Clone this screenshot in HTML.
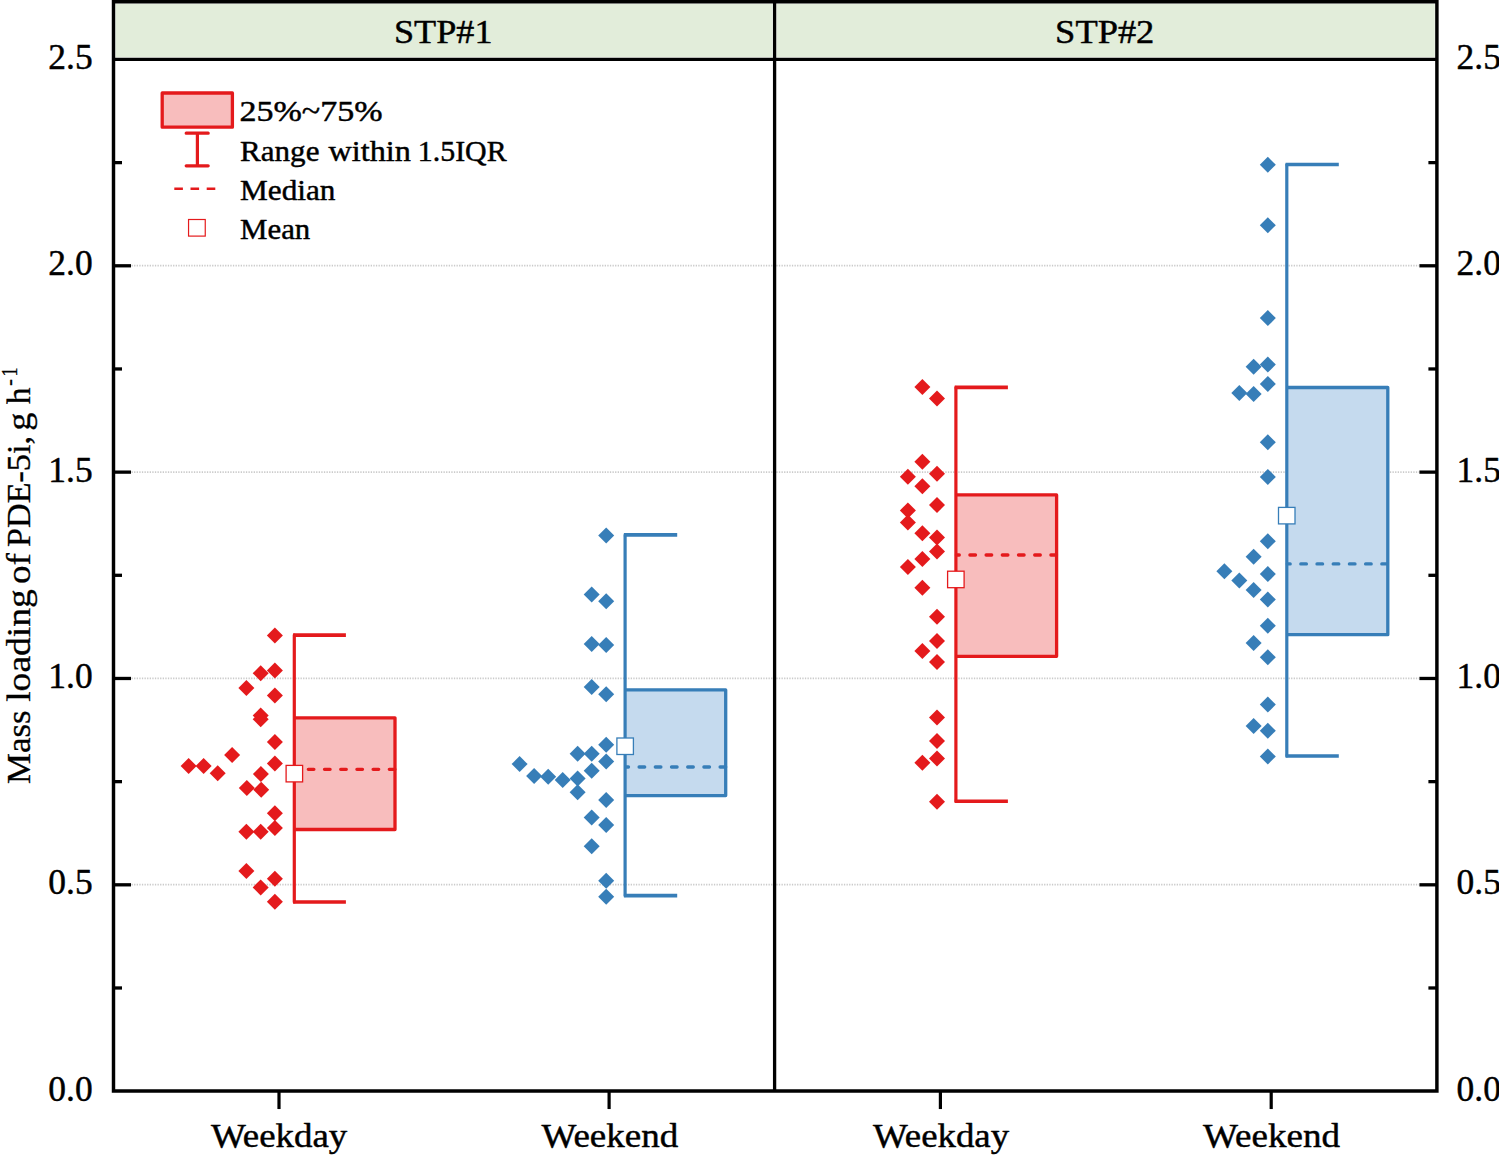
<!DOCTYPE html>
<html><head><meta charset="utf-8"><title>Mass loading of PDE-5i</title>
<style>html,body{margin:0;padding:0;background:#fff;}svg{display:block;}</style></head>
<body>
<svg width="1499" height="1156" viewBox="0 0 1499 1156" font-family="'Liberation Serif', serif">
<rect x="0" y="0" width="1499" height="1156" fill="#fff"/>
<rect x="115.57" y="3.77" width="657.03" height="53.50" fill="#E2EDDA"/>
<rect x="776.60" y="3.77" width="658.23" height="53.50" fill="#E2EDDA"/>
<line x1="131.5" x2="1418.9" y1="884.71" y2="884.71" stroke="#cbcbcb" stroke-width="1.7" stroke-dasharray="1.3 1.3"/>
<line x1="131.5" x2="1418.9" y1="678.37" y2="678.37" stroke="#cbcbcb" stroke-width="1.7" stroke-dasharray="1.3 1.3"/>
<line x1="131.5" x2="1418.9" y1="472.03" y2="472.03" stroke="#cbcbcb" stroke-width="1.7" stroke-dasharray="1.3 1.3"/>
<line x1="131.5" x2="1418.9" y1="265.69" y2="265.69" stroke="#cbcbcb" stroke-width="1.7" stroke-dasharray="1.3 1.3"/>
<path d="M274.9 627.6L282.9 635.6L274.9 643.6L266.9 635.6Z" fill="#E41A1C"/>
<path d="M274.9 662.4L282.9 670.4L274.9 678.4L266.9 670.4Z" fill="#E41A1C"/>
<path d="M260.7 665.2L268.7 673.2L260.7 681.2L252.7 673.2Z" fill="#E41A1C"/>
<path d="M246.4 680.1L254.4 688.1L246.4 696.1L238.4 688.1Z" fill="#E41A1C"/>
<path d="M274.9 687.6L282.9 695.6L274.9 703.6L266.9 695.6Z" fill="#E41A1C"/>
<path d="M260.7 707.5L268.7 715.5L260.7 723.5L252.7 715.5Z" fill="#E41A1C"/>
<path d="M260.7 711.2L268.7 719.2L260.7 727.2L252.7 719.2Z" fill="#E41A1C"/>
<path d="M274.9 734.1L282.9 742.1L274.9 750.1L266.9 742.1Z" fill="#E41A1C"/>
<path d="M232.1 747.0L240.1 755.0L232.1 763.0L224.1 755.0Z" fill="#E41A1C"/>
<path d="M188.6 758.0L196.6 766.0L188.6 774.0L180.6 766.0Z" fill="#E41A1C"/>
<path d="M203.6 758.0L211.6 766.0L203.6 774.0L195.6 766.0Z" fill="#E41A1C"/>
<path d="M217.7 765.2L225.7 773.2L217.7 781.2L209.7 773.2Z" fill="#E41A1C"/>
<path d="M274.9 755.5L282.9 763.5L274.9 771.5L266.9 763.5Z" fill="#E41A1C"/>
<path d="M260.9 766.1L268.9 774.1L260.9 782.1L252.9 774.1Z" fill="#E41A1C"/>
<path d="M246.8 780.1L254.8 788.1L246.8 796.1L238.8 788.1Z" fill="#E41A1C"/>
<path d="M261.2 781.8L269.2 789.8L261.2 797.8L253.2 789.8Z" fill="#E41A1C"/>
<path d="M274.9 805.2L282.9 813.2L274.9 821.2L266.9 813.2Z" fill="#E41A1C"/>
<path d="M274.9 820.0L282.9 828.0L274.9 836.0L266.9 828.0Z" fill="#E41A1C"/>
<path d="M246.4 823.7L254.4 831.7L246.4 839.7L238.4 831.7Z" fill="#E41A1C"/>
<path d="M260.7 823.7L268.7 831.7L260.7 839.7L252.7 831.7Z" fill="#E41A1C"/>
<path d="M246.4 863.1L254.4 871.1L246.4 879.1L238.4 871.1Z" fill="#E41A1C"/>
<path d="M274.9 870.8L282.9 878.8L274.9 886.8L266.9 878.8Z" fill="#E41A1C"/>
<path d="M260.7 879.4L268.7 887.4L260.7 895.4L252.7 887.4Z" fill="#E41A1C"/>
<path d="M274.9 893.7L282.9 901.7L274.9 909.7L266.9 901.7Z" fill="#E41A1C"/>
<rect x="294.3" y="717.8" width="100.7" height="111.7" fill="#F8BDBD"/>
<line x1="294.8" x2="395.0" y1="769.3" y2="769.3" stroke="#E41A1C" stroke-width="3.3" stroke-linecap="round" stroke-dasharray="5.6 10.6" stroke-dashoffset="2.7"/>
<path d="M294.3 635.1V902.0" fill="none" stroke="#E41A1C" stroke-width="3.2" stroke-linecap="round"/>
<path d="M293.1 635.1H345.9M293.1 902.0H345.9" fill="none" stroke="#E41A1C" stroke-width="3.6" stroke-linecap="butt"/>
<path d="M294.3 717.8H395.0V829.5H294.3" fill="none" stroke="#E41A1C" stroke-width="3.3" stroke-linejoin="round"/>
<rect x="286.1" y="765.4" width="16.5" height="16.5" fill="#fff" stroke="#E41A1C" stroke-width="1.3"/>
<path d="M606.2 527.4L614.2 535.4L606.2 543.4L598.2 535.4Z" fill="#377EB8"/>
<path d="M591.7 586.6L599.7 594.6L591.7 602.6L583.7 594.6Z" fill="#377EB8"/>
<path d="M606.2 593.2L614.2 601.2L606.2 609.2L598.2 601.2Z" fill="#377EB8"/>
<path d="M591.7 636.0L599.7 644.0L591.7 652.0L583.7 644.0Z" fill="#377EB8"/>
<path d="M606.2 637.1L614.2 645.1L606.2 653.1L598.2 645.1Z" fill="#377EB8"/>
<path d="M591.7 679.1L599.7 687.1L591.7 695.1L583.7 687.1Z" fill="#377EB8"/>
<path d="M606.2 686.2L614.2 694.2L606.2 702.2L598.2 694.2Z" fill="#377EB8"/>
<path d="M606.2 736.7L614.2 744.7L606.2 752.7L598.2 744.7Z" fill="#377EB8"/>
<path d="M577.6 745.7L585.6 753.7L577.6 761.7L569.6 753.7Z" fill="#377EB8"/>
<path d="M591.7 745.7L599.7 753.7L591.7 761.7L583.7 753.7Z" fill="#377EB8"/>
<path d="M606.2 753.5L614.2 761.5L606.2 769.5L598.2 761.5Z" fill="#377EB8"/>
<path d="M519.6 756.1L527.6 764.1L519.6 772.1L511.6 764.1Z" fill="#377EB8"/>
<path d="M591.7 762.8L599.7 770.8L591.7 778.8L583.7 770.8Z" fill="#377EB8"/>
<path d="M534.1 768.0L542.1 776.0L534.1 784.0L526.1 776.0Z" fill="#377EB8"/>
<path d="M548.2 768.7L556.2 776.7L548.2 784.7L540.2 776.7Z" fill="#377EB8"/>
<path d="M562.7 772.1L570.7 780.1L562.7 788.1L554.7 780.1Z" fill="#377EB8"/>
<path d="M577.6 770.6L585.6 778.6L577.6 786.6L569.6 778.6Z" fill="#377EB8"/>
<path d="M577.6 784.2L585.6 792.2L577.6 800.2L569.6 792.2Z" fill="#377EB8"/>
<path d="M606.2 792.1L614.2 800.1L606.2 808.1L598.2 800.1Z" fill="#377EB8"/>
<path d="M591.7 809.6L599.7 817.6L591.7 825.6L583.7 817.6Z" fill="#377EB8"/>
<path d="M606.2 817.0L614.2 825.0L606.2 833.0L598.2 825.0Z" fill="#377EB8"/>
<path d="M591.7 838.2L599.7 846.2L591.7 854.2L583.7 846.2Z" fill="#377EB8"/>
<path d="M606.2 872.8L614.2 880.8L606.2 888.8L598.2 880.8Z" fill="#377EB8"/>
<path d="M606.2 888.8L614.2 896.8L606.2 904.8L598.2 896.8Z" fill="#377EB8"/>
<rect x="625.1" y="689.9" width="100.6" height="105.7" fill="#C5DAEE"/>
<line x1="625.6" x2="725.7" y1="767.0" y2="767.0" stroke="#377EB8" stroke-width="3.3" stroke-linecap="round" stroke-dasharray="5.6 10.6" stroke-dashoffset="2.7"/>
<path d="M625.1 534.9V895.6" fill="none" stroke="#377EB8" stroke-width="3.2" stroke-linecap="round"/>
<path d="M623.9 534.9H677.2M623.9 895.6H677.2" fill="none" stroke="#377EB8" stroke-width="3.6" stroke-linecap="butt"/>
<path d="M625.1 689.9H725.7V795.6H625.1" fill="none" stroke="#377EB8" stroke-width="3.3" stroke-linejoin="round"/>
<rect x="616.9" y="738.0" width="16.5" height="16.5" fill="#fff" stroke="#377EB8" stroke-width="1.3"/>
<path d="M922.4 379.1L930.4 387.1L922.4 395.1L914.4 387.1Z" fill="#E41A1C"/>
<path d="M937.0 390.6L945.0 398.6L937.0 406.6L929.0 398.6Z" fill="#E41A1C"/>
<path d="M922.4 453.8L930.4 461.8L922.4 469.8L914.4 461.8Z" fill="#E41A1C"/>
<path d="M907.9 468.8L915.9 476.8L907.9 484.8L899.9 476.8Z" fill="#E41A1C"/>
<path d="M937.0 465.8L945.0 473.8L937.0 481.8L929.0 473.8Z" fill="#E41A1C"/>
<path d="M922.4 478.3L930.4 486.3L922.4 494.3L914.4 486.3Z" fill="#E41A1C"/>
<path d="M937.0 497.1L945.0 505.1L937.0 513.0L929.0 505.1Z" fill="#E41A1C"/>
<path d="M907.9 502.4L915.9 510.4L907.9 518.5L899.9 510.4Z" fill="#E41A1C"/>
<path d="M907.9 514.5L915.9 522.5L907.9 530.5L899.9 522.5Z" fill="#E41A1C"/>
<path d="M922.4 525.2L930.4 533.2L922.4 541.2L914.4 533.2Z" fill="#E41A1C"/>
<path d="M937.0 529.5L945.0 537.5L937.0 545.5L929.0 537.5Z" fill="#E41A1C"/>
<path d="M937.0 543.6L945.0 551.6L937.0 559.6L929.0 551.6Z" fill="#E41A1C"/>
<path d="M922.4 551.1L930.4 559.1L922.4 567.1L914.4 559.1Z" fill="#E41A1C"/>
<path d="M907.9 559.0L915.9 567.0L907.9 575.0L899.9 567.0Z" fill="#E41A1C"/>
<path d="M922.4 579.8L930.4 587.8L922.4 595.8L914.4 587.8Z" fill="#E41A1C"/>
<path d="M937.0 608.8L945.0 616.8L937.0 624.8L929.0 616.8Z" fill="#E41A1C"/>
<path d="M937.0 632.9L945.0 640.9L937.0 648.9L929.0 640.9Z" fill="#E41A1C"/>
<path d="M922.4 642.9L930.4 650.9L922.4 658.9L914.4 650.9Z" fill="#E41A1C"/>
<path d="M937.0 654.1L945.0 662.1L937.0 670.1L929.0 662.1Z" fill="#E41A1C"/>
<path d="M937.0 709.4L945.0 717.4L937.0 725.4L929.0 717.4Z" fill="#E41A1C"/>
<path d="M937.0 733.1L945.0 741.1L937.0 749.1L929.0 741.1Z" fill="#E41A1C"/>
<path d="M937.0 750.5L945.0 758.5L937.0 766.5L929.0 758.5Z" fill="#E41A1C"/>
<path d="M922.4 754.7L930.4 762.7L922.4 770.7L914.4 762.7Z" fill="#E41A1C"/>
<path d="M937.0 793.7L945.0 801.7L937.0 809.7L929.0 801.7Z" fill="#E41A1C"/>
<rect x="955.9" y="494.9" width="100.7" height="161.4" fill="#F8BDBD"/>
<line x1="956.4" x2="1056.6" y1="555.0" y2="555.0" stroke="#E41A1C" stroke-width="3.3" stroke-linecap="round" stroke-dasharray="5.6 10.6" stroke-dashoffset="2.7"/>
<path d="M955.9 387.4V801.2" fill="none" stroke="#E41A1C" stroke-width="3.2" stroke-linecap="round"/>
<path d="M954.7 387.4H1007.9M954.7 801.2H1007.9" fill="none" stroke="#E41A1C" stroke-width="3.6" stroke-linecap="butt"/>
<path d="M955.9 494.9H1056.6V656.3H955.9" fill="none" stroke="#E41A1C" stroke-width="3.3" stroke-linejoin="round"/>
<rect x="947.6" y="571.2" width="16.5" height="16.5" fill="#fff" stroke="#E41A1C" stroke-width="1.3"/>
<path d="M1267.8 156.8L1275.8 164.8L1267.8 172.8L1259.8 164.8Z" fill="#377EB8"/>
<path d="M1267.8 217.2L1275.8 225.2L1267.8 233.2L1259.8 225.2Z" fill="#377EB8"/>
<path d="M1267.8 310.1L1275.8 318.1L1267.8 326.1L1259.8 318.1Z" fill="#377EB8"/>
<path d="M1253.6 358.8L1261.6 366.8L1253.6 374.8L1245.6 366.8Z" fill="#377EB8"/>
<path d="M1267.8 356.6L1275.8 364.6L1267.8 372.6L1259.8 364.6Z" fill="#377EB8"/>
<path d="M1267.8 375.9L1275.8 383.9L1267.8 391.9L1259.8 383.9Z" fill="#377EB8"/>
<path d="M1239.3 385.1L1247.3 393.1L1239.3 401.1L1231.3 393.1Z" fill="#377EB8"/>
<path d="M1253.6 385.9L1261.6 393.9L1253.6 401.9L1245.6 393.9Z" fill="#377EB8"/>
<path d="M1267.8 434.3L1275.8 442.3L1267.8 450.3L1259.8 442.3Z" fill="#377EB8"/>
<path d="M1267.8 468.9L1275.8 476.9L1267.8 484.9L1259.8 476.9Z" fill="#377EB8"/>
<path d="M1267.8 533.2L1275.8 541.2L1267.8 549.2L1259.8 541.2Z" fill="#377EB8"/>
<path d="M1253.6 548.7L1261.6 556.7L1253.6 564.7L1245.6 556.7Z" fill="#377EB8"/>
<path d="M1224.4 563.2L1232.4 571.2L1224.4 579.2L1216.4 571.2Z" fill="#377EB8"/>
<path d="M1267.8 566.1L1275.8 574.1L1267.8 582.1L1259.8 574.1Z" fill="#377EB8"/>
<path d="M1239.3 572.4L1247.3 580.4L1239.3 588.4L1231.3 580.4Z" fill="#377EB8"/>
<path d="M1253.6 582.1L1261.6 590.1L1253.6 598.1L1245.6 590.1Z" fill="#377EB8"/>
<path d="M1267.8 591.5L1275.8 599.5L1267.8 607.5L1259.8 599.5Z" fill="#377EB8"/>
<path d="M1267.8 617.8L1275.8 625.8L1267.8 633.8L1259.8 625.8Z" fill="#377EB8"/>
<path d="M1253.6 634.9L1261.6 642.9L1253.6 650.9L1245.6 642.9Z" fill="#377EB8"/>
<path d="M1267.8 649.2L1275.8 657.2L1267.8 665.2L1259.8 657.2Z" fill="#377EB8"/>
<path d="M1267.8 696.6L1275.8 704.6L1267.8 712.6L1259.8 704.6Z" fill="#377EB8"/>
<path d="M1253.6 718.0L1261.6 726.0L1253.6 734.0L1245.6 726.0Z" fill="#377EB8"/>
<path d="M1267.8 722.8L1275.8 730.8L1267.8 738.8L1259.8 730.8Z" fill="#377EB8"/>
<path d="M1267.8 748.5L1275.8 756.5L1267.8 764.5L1259.8 756.5Z" fill="#377EB8"/>
<rect x="1286.8" y="387.5" width="101.0" height="247.2" fill="#C5DAEE"/>
<line x1="1287.3" x2="1387.8" y1="563.9" y2="563.9" stroke="#377EB8" stroke-width="3.3" stroke-linecap="round" stroke-dasharray="5.6 10.6" stroke-dashoffset="2.7"/>
<path d="M1286.8 164.5V756.0" fill="none" stroke="#377EB8" stroke-width="3.2" stroke-linecap="round"/>
<path d="M1285.6 164.5H1338.8M1285.6 756.0H1338.8" fill="none" stroke="#377EB8" stroke-width="3.6" stroke-linecap="butt"/>
<path d="M1286.8 387.5H1387.8V634.7H1286.8" fill="none" stroke="#377EB8" stroke-width="3.3" stroke-linejoin="round"/>
<rect x="1278.5" y="507.4" width="16.5" height="16.5" fill="#fff" stroke="#377EB8" stroke-width="1.3"/>
<g stroke="#000" stroke-width="3.45" fill="none" stroke-linecap="butt">
<path d="M113.5 1091.05V1.7H1436.9V1091.05Z" stroke-linejoin="miter"/>
<line x1="113.5" x2="1436.9" y1="59.35" y2="59.35"/>
<line x1="774.6" x2="774.6" y1="1.7" y2="1091.05" stroke-width="3.3"/>
<line x1="113.5" x2="122.0" y1="987.98" y2="987.98" stroke-width="3.3"/>
<line x1="1436.9" x2="1428.4" y1="987.98" y2="987.98" stroke-width="3.3"/>
<line x1="113.5" x2="131.0" y1="884.81" y2="884.81" stroke-width="3.3"/>
<line x1="1436.9" x2="1419.4" y1="884.81" y2="884.81" stroke-width="3.3"/>
<line x1="113.5" x2="122.0" y1="781.64" y2="781.64" stroke-width="3.3"/>
<line x1="1436.9" x2="1428.4" y1="781.64" y2="781.64" stroke-width="3.3"/>
<line x1="113.5" x2="131.0" y1="678.47" y2="678.47" stroke-width="3.3"/>
<line x1="1436.9" x2="1419.4" y1="678.47" y2="678.47" stroke-width="3.3"/>
<line x1="113.5" x2="122.0" y1="575.30" y2="575.30" stroke-width="3.3"/>
<line x1="1436.9" x2="1428.4" y1="575.30" y2="575.30" stroke-width="3.3"/>
<line x1="113.5" x2="131.0" y1="472.13" y2="472.13" stroke-width="3.3"/>
<line x1="1436.9" x2="1419.4" y1="472.13" y2="472.13" stroke-width="3.3"/>
<line x1="113.5" x2="122.0" y1="368.96" y2="368.96" stroke-width="3.3"/>
<line x1="1436.9" x2="1428.4" y1="368.96" y2="368.96" stroke-width="3.3"/>
<line x1="113.5" x2="131.0" y1="265.79" y2="265.79" stroke-width="3.3"/>
<line x1="1436.9" x2="1419.4" y1="265.79" y2="265.79" stroke-width="3.3"/>
<line x1="113.5" x2="122.0" y1="162.62" y2="162.62" stroke-width="3.3"/>
<line x1="1436.9" x2="1428.4" y1="162.62" y2="162.62" stroke-width="3.3"/>
<line x1="279.0" x2="279.0" y1="1091.05" y2="1109.05" stroke-width="3.2"/>
<line x1="609.1" x2="609.1" y1="1091.05" y2="1109.05" stroke-width="3.2"/>
<line x1="940.4" x2="940.4" y1="1091.05" y2="1109.05" stroke-width="3.2"/>
<line x1="1271.2" x2="1271.2" y1="1091.05" y2="1109.05" stroke-width="3.2"/>
</g>
<g fill="#000" stroke="#000" stroke-width="0.45" stroke-linejoin="round">
<text x="48.38" y="1100.5" font-size="34.8" textLength="44.30" lengthAdjust="spacingAndGlyphs">0.0</text>
<text x="1456.58" y="1100.5" font-size="34.8" textLength="44.30" lengthAdjust="spacingAndGlyphs">0.0</text>
<text x="48.38" y="894.2" font-size="34.8" textLength="44.30" lengthAdjust="spacingAndGlyphs">0.5</text>
<text x="1456.58" y="894.2" font-size="34.8" textLength="44.30" lengthAdjust="spacingAndGlyphs">0.5</text>
<text x="48.38" y="687.9" font-size="34.8" textLength="44.30" lengthAdjust="spacingAndGlyphs">1.0</text>
<text x="1456.58" y="687.9" font-size="34.8" textLength="44.30" lengthAdjust="spacingAndGlyphs">1.0</text>
<text x="48.38" y="481.5" font-size="34.8" textLength="44.30" lengthAdjust="spacingAndGlyphs">1.5</text>
<text x="1456.58" y="481.5" font-size="34.8" textLength="44.30" lengthAdjust="spacingAndGlyphs">1.5</text>
<text x="48.38" y="275.2" font-size="34.8" textLength="44.30" lengthAdjust="spacingAndGlyphs">2.0</text>
<text x="1456.58" y="275.2" font-size="34.8" textLength="44.30" lengthAdjust="spacingAndGlyphs">2.0</text>
<text x="48.38" y="68.8" font-size="34.8" textLength="44.30" lengthAdjust="spacingAndGlyphs">2.5</text>
<text x="1456.58" y="68.8" font-size="34.8" textLength="44.30" lengthAdjust="spacingAndGlyphs">2.5</text>
<text x="210.94" y="1147.1" font-size="34.5" textLength="136.30" lengthAdjust="spacingAndGlyphs">Weekday</text>
<text x="541.51" y="1147.1" font-size="34.5" textLength="136.67" lengthAdjust="spacingAndGlyphs">Weekend</text>
<text x="873.01" y="1147.1" font-size="34.5" textLength="136.11" lengthAdjust="spacingAndGlyphs">Weekday</text>
<text x="1203.05" y="1147.1" font-size="34.5" textLength="136.98" lengthAdjust="spacingAndGlyphs">Weekend</text>
<text x="393.95" y="42.5" font-size="34.5" textLength="98.55" lengthAdjust="spacingAndGlyphs">STP#1</text>
<text x="1055.12" y="42.5" font-size="34.5" textLength="99.24" lengthAdjust="spacingAndGlyphs">STP#2</text>
<g transform="translate(30.0 784) rotate(-90)" stroke-width="0.3">
<text x="0.03" y="0.0" font-size="34.5" textLength="73.58" lengthAdjust="spacingAndGlyphs">Mass</text>
<text x="82.18" y="0.0" font-size="34.5" textLength="112.66" lengthAdjust="spacingAndGlyphs">loading</text>
<text x="199.90" y="0.0" font-size="34.5" textLength="31.03" lengthAdjust="spacingAndGlyphs">of</text>
<text x="237.04" y="0.0" font-size="34.5" textLength="110.92" lengthAdjust="spacingAndGlyphs">PDE-5i,</text>
<text x="353.15" y="0.0" font-size="34.5" textLength="18.23" lengthAdjust="spacingAndGlyphs">g</text>
<text x="379.83" y="0.0" font-size="34.5" textLength="16.73" lengthAdjust="spacingAndGlyphs">h</text>
<text x="398.20" y="-13.5" font-size="23" textLength="6.60" lengthAdjust="spacingAndGlyphs">-</text>
<text x="407.50" y="-13.5" font-size="23" textLength="9.00" lengthAdjust="spacingAndGlyphs">1</text>
</g>
<text x="239.46" y="121.0" font-size="29.5" textLength="143.09" lengthAdjust="spacingAndGlyphs">25%~75%</text>
<text x="240.08" y="160.6" font-size="29.5" textLength="79.37" lengthAdjust="spacingAndGlyphs">Range</text>
<text x="328.49" y="160.6" font-size="29.5" textLength="82.31" lengthAdjust="spacingAndGlyphs">within</text>
<text x="417.84" y="160.6" font-size="29.5" textLength="88.76" lengthAdjust="spacingAndGlyphs">1.5IQR</text>
<text x="240.08" y="199.7" font-size="29.5" textLength="95.40" lengthAdjust="spacingAndGlyphs">Median</text>
<text x="240.05" y="238.9" font-size="29.5" textLength="70.25" lengthAdjust="spacingAndGlyphs">Mean</text>
</g>
<rect x="162.2" y="93" width="70.2" height="34.2" fill="#F8BDBD" stroke="#E41A1C" stroke-width="3.3" stroke-linejoin="round"/>
<path d="M186.2 133.2H208.2M197.4 133.2V165.8M186.2 165.8H208.2" stroke="#E41A1C" stroke-width="3.2" stroke-linecap="round" fill="none"/>
<line x1="174.3" x2="215.3" y1="188.8" y2="188.8" stroke="#E41A1C" stroke-width="2.6" stroke-dasharray="8.6 7.6"/>
<rect x="188.55" y="219.5" width="16.7" height="16.6" fill="#fff" stroke="#E41A1C" stroke-width="1.2"/>
</svg>
</body></html>
